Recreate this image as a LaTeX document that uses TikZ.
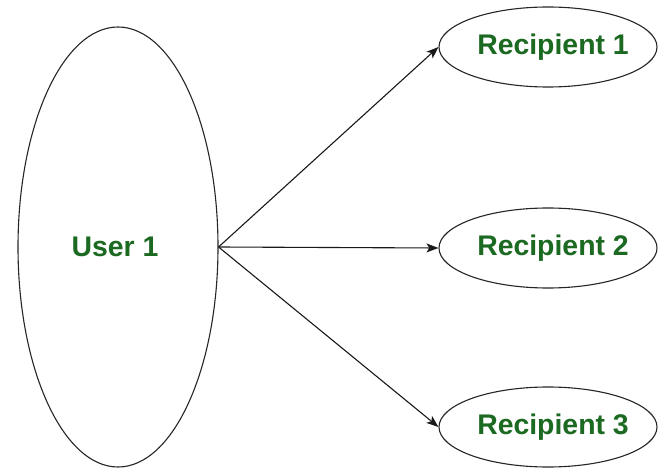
\documentclass[tikz,border=0pt]{standalone}
\usepackage{fontspec}
\setmainfont{Liberation Sans}
\usetikzlibrary{shapes.geometric,arrows.meta}
\definecolor{labelgreen}{RGB}{28,106,34}
\tikzset{
  oval/.style={ellipse, draw=black!85, line width=1.1bp, fill=white, inner sep=0pt},
  lbl/.style={inner sep=0pt, font=\fontsize{28.5}{32}\selectfont\bfseries, text=labelgreen},
  link/.style={draw=black!90, line width=1.1bp, -{Stealth[length=12bp,width=9bp,inset=3bp]}}
}
\begin{document}
\begin{tikzpicture}[x=1bp,y=-1bp]
  \useasboundingbox[fill=white] (0,0) rectangle (659,468);
  % sender
  \node[oval, minimum width=200bp, minimum height=440bp] (user) at (118,247) {};
  \node[lbl] (userlbl) at ([xshift=-3bp]user.center) {User 1};
  % recipients
  \node[oval, minimum width=218bp, minimum height=80bp] (r1) at (548,47) {};
  \node[oval, minimum width=218bp, minimum height=80bp] (r2) at (548,248) {};
  \node[oval, minimum width=218bp, minimum height=80bp] (r3) at (548,427) {};
  \node[lbl] (r1lbl) at ([xshift=5bp]r1.center) {Recipient 1};
  \node[lbl] (r2lbl) at ([xshift=5bp]r2.center) {Recipient 2};
  \node[lbl] (r3lbl) at ([xshift=5bp]r3.center) {Recipient 3};
  % messages
  \draw[link] (user.east) -- (r1.west);
  \draw[link] (user.east) -- (r2.west);
  \draw[link] (user.east) -- (r3.west);
\end{tikzpicture}
\end{document}
